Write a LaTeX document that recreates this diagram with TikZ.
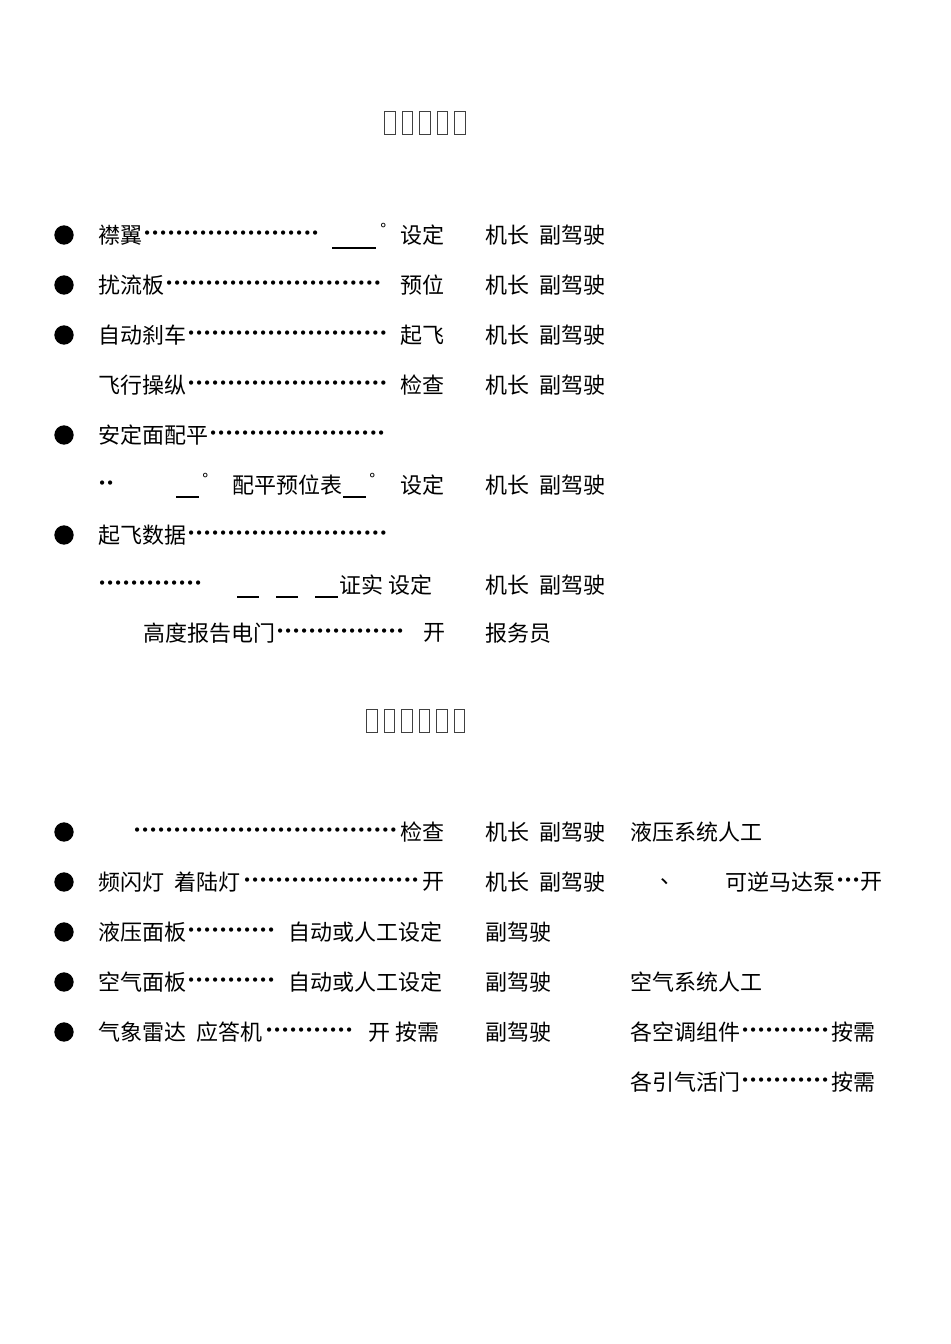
\documentclass[tikz,border=0pt]{standalone}
\usepackage{fontspec}
\setmainfont{Noto Sans CJK SC}
\newfontfamily\dvs{DejaVu Sans}
\begin{document}
\begin{tikzpicture}[x=0.75pt,y=-0.75pt,
  t/.style={anchor=west,inner sep=0pt,font=\fontsize{16.5}{16.5}\selectfont},
  blt/.style={fill=black,circle,inner sep=0pt,minimum size=14.5pt},
  tofu/.style={draw=black!75,line width=0.9pt,minimum width=8pt,minimum height=17pt,inner sep=0pt},
  ul/.style={line width=1pt}]
\useasboundingbox (0,0) rectangle (950,1344);
\newcommand\dotsto[3]{\node[t] (#3) at (#1) {\makebox[#2\dimexpr 0.75pt\relax]{\leaders\hbox to 6pt{\hss\dvs\fontsize{11}{11}\selectfont •\hss}\hfill}};}
% title 1
\foreach \i in {0,...,4} \node[tofu] (ta\i) at (390+\i*17.5,123) {};
% title 2
\foreach \i in {0,...,5} \node[tofu] (tb\i) at (372+\i*17.5,721) {};
% bullets
\foreach \y/\n in {235/a,285/b,335/c,435/d,535/e,832/f,882/g,932/h,982/i,1032/j} \node[blt] (b\n) at (64,\y) {};
% row 1
\node[t] (r1) at (98,235) {襟翼}; \dotsto{143,235}{177}{d1}
\coordinate (u1a) at (332,248); \coordinate (u1b) at (376,248); \draw[ul] (u1a)--(u1b);
\node[t] (deg1) at (380,229) {\fontsize{12}{12}\selectfont °};
\node[t] (s1) at (400,235) {设定};
\node[t] (p1) at (485,235) {机长\ \ 副驾驶};
% row 2
\node[t] (r2) at (98,285) {扰流板}; \dotsto{165,285}{222}{d2}
\node[t] (s2) at (400,285) {预位}; \node[t] (p2) at (485,285) {机长\ \ 副驾驶};
% row 3
\node[t] (r3) at (98,335) {自动刹车}; \dotsto{187,335}{200}{d3}
\node[t] (s3) at (400,335) {起飞}; \node[t] (p3) at (485,335) {机长\ \ 副驾驶};
% row 4
\node[t] (r4) at (98,385) {飞行操纵}; \dotsto{187,385}{200}{d4}
\node[t] (s4) at (400,385) {检查}; \node[t] (p4) at (485,385) {机长\ \ 副驾驶};
% row 5
\node[t] (r5) at (98,435) {安定面配平}; \dotsto{209,435}{178}{d5}
% row 6
\dotsto{98,485}{22}{d6}
\coordinate (u6a) at (176,497); \coordinate (u6b) at (199,497); \draw[ul] (u6a)--(u6b);
\node[t] (deg6) at (202,479) {\fontsize{12}{12}\selectfont °};
\node[t] (r6) at (232,485) {配平预位表};
\coordinate (u6c) at (343,497); \coordinate (u6d) at (366,497); \draw[ul] (u6c)--(u6d);
\node[t] (deg6b) at (369,479) {\fontsize{12}{12}\selectfont °};
\node[t] (s6) at (400,485) {设定}; \node[t] (p6) at (485,485) {机长\ \ 副驾驶};
% row 7
\node[t] (r7) at (98,535) {起飞数据}; \dotsto{187,535}{200}{d7}
% row 8
\dotsto{98,585}{110}{d8}
\coordinate (u8a) at (237,597); \coordinate (u8b) at (259,597); \draw[ul] (u8a)--(u8b);
\coordinate (u8c) at (276,597); \coordinate (u8d) at (298,597); \draw[ul] (u8c)--(u8d);
\coordinate (u8e) at (315,597); \coordinate (u8f) at (338,597); \draw[ul] (u8e)--(u8f);
\node[t] (r8) at (339,585) {证实\ 设定};
\node[t] (p8) at (485,585) {机长\ \ 副驾驶};
% row 9
\node[t] (r9) at (143,633) {高度报告电门}; \dotsto{276,633}{133}{d9}
\node[t] (s9) at (423,633) {开}; \node[t] (p9) at (485,633) {报务员};
% section 2
\dotsto{133,832}{267}{d10}
\node[t] (s10) at (400,832) {检查}; \node[t] (p10) at (485,832) {机长\ \ 副驾驶};
\node[t] (q10) at (630,832) {液压系统人工};
\node[t] (r11) at (98,882) {频闪灯\ \ 着陆灯}; \dotsto{243,882}{177}{d11}
\node[t] (s11) at (422,882) {开}; \node[t] (p11) at (485,882) {机长\ \ 副驾驶};
\node[t] (c11) at (660,882) {、};
\node[t] (q11) at (725,882) {可逆马达泵}; \dotsto{836,882}{24}{e11}
\node[t] (k11) at (860,882) {开};
\node[t] (r12) at (98,932) {液压面板}; \dotsto{187,932}{88}{d12}
\node[t] (s12) at (288,932) {自动或人工设定}; \node[t] (p12) at (485,932) {副驾驶};
\node[t] (r13) at (98,982) {空气面板}; \dotsto{187,982}{88}{d13}
\node[t] (s13) at (288,982) {自动或人工设定}; \node[t] (p13) at (485,982) {副驾驶};
\node[t] (q13) at (630,982) {空气系统人工};
\node[t] (r14) at (98,1032) {气象雷达\ \ 应答机}; \dotsto{265,1032}{90}{d14}
\node[t] (s14) at (368,1032) {开\ 按需}; \node[t] (p14) at (485,1032) {副驾驶};
\node[t] (q14) at (630,1032) {各空调组件}; \dotsto{741,1032}{90}{e14}
\node[t] (k14) at (831,1032) {按需};
\node[t] (q15) at (630,1082) {各引气活门}; \dotsto{741,1082}{90}{e15}
\node[t] (k15) at (831,1082) {按需};
\end{tikzpicture}
\end{document}
